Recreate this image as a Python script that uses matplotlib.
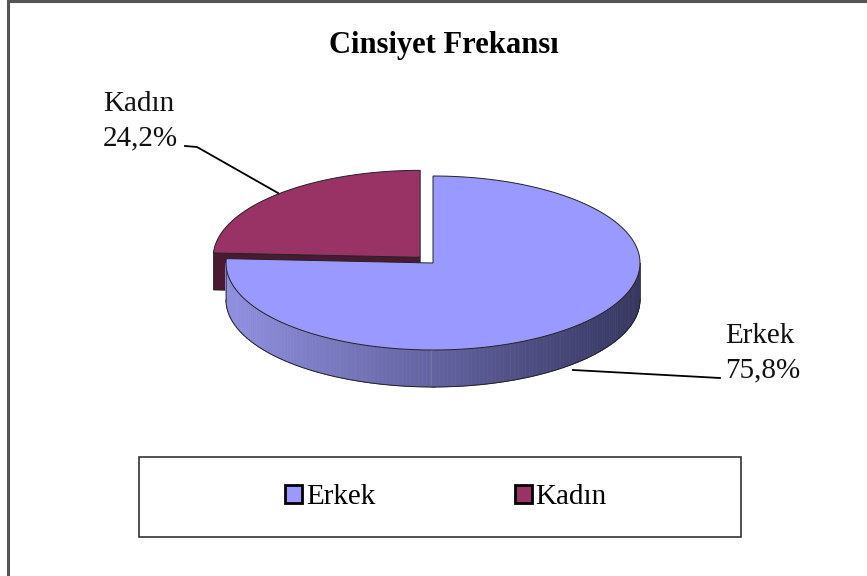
import numpy as np
import matplotlib.pyplot as plt
from matplotlib.patches import Polygon, Rectangle
from matplotlib.colors import to_rgb

# data
labels = ["Erkek", "Kadın"]
shares = [75.8, 24.2]
slice_labels = ["Erkek\n75,8%", "Kadın\n24,2%"]
colors = ["#9999FF", "#993366"]
side_dark = ["#363660", "#4a1a33"]
side_light = ["#9090e0", "#6a2a4a"]
explode = [0.0, 0.09]

plt.rcParams['font.family'] = ['Liberation Serif', 'DejaVu Serif']

W, H = 867, 576
fig = plt.figure(figsize=(W / 100, H / 100), dpi=100)
ax = fig.add_axes([0, 0, 1, 1])
ax.set_xlim(0, W)
ax.set_ylim(H, 0)
ax.axis('off')

# pie geometry (pixels)
CX, CY = 433, 263
RX, RY = 207, 87
DEPTH = 37


def pt(cx, cy, th, dz=0):
    return cx + RX * np.cos(th), cy - RY * np.sin(th) + dz


fracs = np.array(shares) / sum(shares)
starts = np.radians(90 - 360 * np.concatenate([[0], np.cumsum(fracs)[:-1]]))
ends = starts - 2 * np.pi * fracs
mids = (starts + ends) / 2

order = np.argsort(-np.sin(mids))  # back slices first
for i in order:
    a0, a1 = starts[i], ends[i]
    cx = CX + explode[i] * RX * np.cos(mids[i])
    cy = CY - explode[i] * RY * np.sin(mids[i])
    z = 2 + list(order).index(i) * 5
    dark = np.array(to_rgb(side_dark[i]))
    light = np.array(to_rgb(side_light[i]))

    # radial faces
    for a, vis in ((a0, np.cos(a0) < -1e-6), (a1, np.cos(a1) > 1e-6)):
        if vis:
            rx_, ry_ = pt(cx, cy, a)
            face = [(cx, cy), (rx_, ry_), (rx_, ry_ + DEPTH), (cx, cy + DEPTH)]
            ax.add_patch(Polygon(face, closed=True, facecolor=side_dark[i],
                                 edgecolor='#222222', lw=0.6, zorder=z))

    # outer side (front half only)
    lo, hi = max(a1, -np.pi), min(a0, 0.0)
    if hi > lo:
        th = np.linspace(hi, lo, 160)
        for k in range(len(th) - 1):
            t = (np.cos((th[k] + th[k + 1]) / 2) + 1) / 2
            c = light * (1 - t) + dark * t
            p1 = pt(cx, cy, th[k]); p2 = pt(cx, cy, th[k + 1])
            quad = [p1, p2, (p2[0], p2[1] + DEPTH), (p1[0], p1[1] + DEPTH)]
            ax.add_patch(Polygon(quad, closed=True, facecolor=c, edgecolor=c,
                                 lw=0.5, zorder=z + 1))
        bx, by = pt(cx, cy, th, DEPTH)
        ax.plot(bx, by, color='#222222', lw=0.7, zorder=z + 2)
        for e in (hi, lo):
            ex, ey = pt(cx, cy, e)
            ax.plot([ex, ex], [ey, ey + DEPTH], color='#444444', lw=0.6, zorder=z + 2)

    # top face
    th = np.linspace(a0, a1, 200)
    xs, ys = pt(cx, cy, th)
    poly = [(cx, cy)] + list(zip(xs, ys))
    ax.add_patch(Polygon(poly, closed=True, facecolor=colors[i],
                         edgecolor='#222222', lw=0.7, zorder=z + 3))

# data labels with leader lines
ax.text(725, 323, slice_labels[0], fontsize=21, va='top', ha='left',
        linespacing=1.42, color='#111111')
ax.plot([573, 720], [370, 378], color='black', lw=1.3, zorder=30)
ax.text(103, 91, slice_labels[1], fontsize=21, va='top', ha='left',
        linespacing=1.42, color='#111111')
ax.plot([185, 197, 278], [146, 147, 193], color='black', lw=1.3, zorder=30)

# title
ax.text(444, 53, "Cinsiyet Frekansı", fontsize=22, fontweight='bold',
        ha='center', va='baseline')

# legend box
ax.add_patch(Rectangle((139, 457), 602, 80, facecolor='none',
                       edgecolor='#333333', lw=1.2, zorder=5))
handles = [Rectangle((0, 0), 1, 1, facecolor=c, edgecolor='black', lw=2)
           for c in colors]
leg = ax.legend(handles, labels, loc='center', bbox_to_anchor=(446 / W, 1 - 497 / H),
                bbox_transform=fig.transFigure, ncol=2, frameon=False,
                fontsize=21, handlelength=0.58, handleheight=0.58,
                handletextpad=0.12, columnspacing=4.8)

# outer frame (left and top)
ax.plot([8, 8], [0, H], color='#555555', lw=2.2)
ax.plot([8, W], [1, 1], color='#555555', lw=2.2)

fig.savefig("out.png", dpi=100)
